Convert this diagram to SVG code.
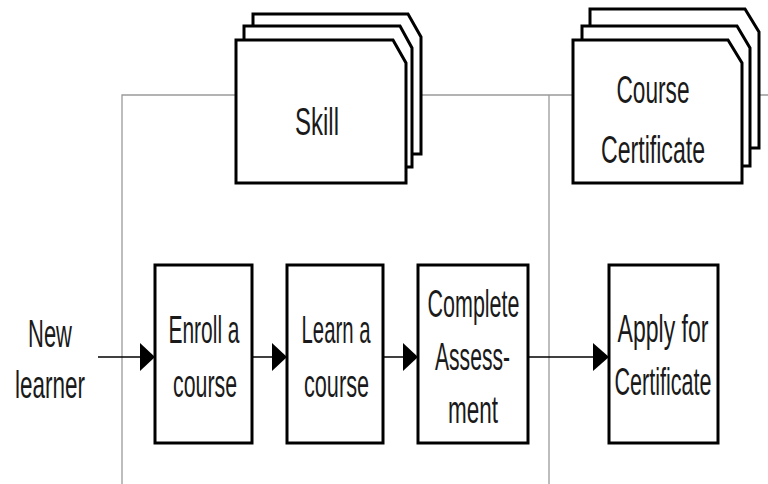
<svg xmlns="http://www.w3.org/2000/svg" width="768" height="484" viewBox="0 0 768 484">
<defs>
<style>
.guide{stroke:#9a9a9a;stroke-width:1.3;fill:none}
.box{fill:#fff;stroke:#000;stroke-width:3}
.lbl{font-family:"Liberation Sans",Arial,sans-serif;font-size:39px;fill:#1a1a1a;text-anchor:middle}
.conn{stroke:#000;stroke-width:1.5;fill:none}
.head{fill:#000}
</style>
</defs>
<rect width="768" height="484" fill="#fff"/>
<g id="guides">
<path class="guide" d="M122,484 V95 H768 M549,95 V484"/>
</g>
<g id="skill">
<path class="box" d="M253,14 H408 L421,37 V154 H253 Z"/>
<path class="box" d="M244,26 H400 L412,48 V167 H244 Z"/>
<path class="box" d="M236,40 H393 L406,63 V183 H236 Z"/>
<text class="lbl" x="317" y="135" textLength="44" lengthAdjust="spacingAndGlyphs">Skill</text>
</g>
<g id="course-certificate">
<path class="box" d="M590,9 H745 L759,32 V148 H590 Z"/>
<path class="box" d="M582,26 H737 L750,48 V166 H582 Z"/>
<path class="box" d="M573,40 H728 L742,63 V183 H573 Z"/>
<text class="lbl" x="653" y="103" textLength="73" lengthAdjust="spacingAndGlyphs">Course</text>
<text class="lbl" x="653" y="163" textLength="104" lengthAdjust="spacingAndGlyphs">Certificate</text>
</g>
<g id="new-learner">
<text class="lbl" x="50" y="347" textLength="44" lengthAdjust="spacingAndGlyphs">New</text>
<text class="lbl" x="50" y="398" textLength="70" lengthAdjust="spacingAndGlyphs">learner</text>
</g>
<g id="enroll">
<rect class="box" x="155" y="265" width="97" height="178"/>
<text class="lbl" x="204" y="343" textLength="71" lengthAdjust="spacingAndGlyphs">Enroll a</text>
<text class="lbl" x="205" y="397" textLength="64" lengthAdjust="spacingAndGlyphs">course</text>
</g>
<g id="learn">
<rect class="box" x="287" y="265" width="96" height="178"/>
<text class="lbl" x="336" y="343" textLength="69" lengthAdjust="spacingAndGlyphs">Learn a</text>
<text class="lbl" x="336.5" y="397" textLength="65" lengthAdjust="spacingAndGlyphs">course</text>
</g>
<g id="complete">
<rect class="box" x="418" y="265" width="110" height="178"/>
<text class="lbl" x="473.5" y="317" textLength="92" lengthAdjust="spacingAndGlyphs">Complete</text>
<text class="lbl" x="472.5" y="370" textLength="75" lengthAdjust="spacingAndGlyphs">Assess-</text>
<text class="lbl" x="473" y="423" textLength="50" lengthAdjust="spacingAndGlyphs">ment</text>
</g>
<g id="apply">
<rect class="box" x="609" y="265" width="109" height="178"/>
<text class="lbl" x="663" y="342" textLength="91" lengthAdjust="spacingAndGlyphs">Apply for</text>
<text class="lbl" x="663" y="395" textLength="97" lengthAdjust="spacingAndGlyphs">Certificate</text>
</g>
<g id="connectors">
<path class="conn" d="M98,357 H141"/>
<path class="head" d="M140,343 L155,357 L140,371 Z"/>
<path class="conn" d="M252,357 H273"/>
<path class="head" d="M272,343 L287,357 L272,371 Z"/>
<path class="conn" d="M383,357 H404"/>
<path class="head" d="M403,343 L418,357 L403,371 Z"/>
<path class="conn" d="M528,357 H594"/>
<path class="head" d="M593,343 L609,357 L593,371 Z"/>
</g>
</svg>
